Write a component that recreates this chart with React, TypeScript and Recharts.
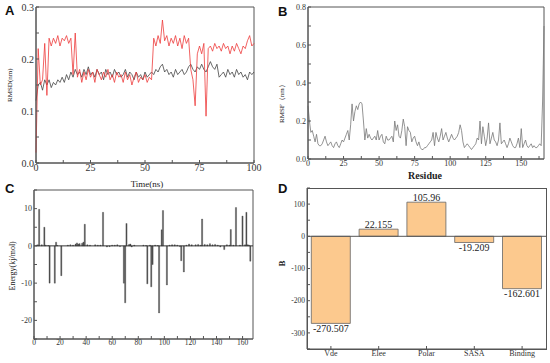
import {
  LineChart, Line, BarChart, Bar, XAxis, YAxis, ReferenceArea,
  ReferenceLine, LabelList,
} from 'recharts'

// A: RMSD over time (ns), one value per ns
const timeA = Array.from({ length: 101 }, (_, i) => i)
const rmsdRed = [
  0.02, 0.22, 0.15, 0.16, 0.23, 0.13, 0.24, 0.225, 0.24, 0.23,
  0.245, 0.225, 0.24, 0.235, 0.245, 0.23, 0.24, 0.17, 0.25, 0.165,
  0.18, 0.155, 0.175, 0.16, 0.18, 0.165, 0.175, 0.155, 0.18, 0.17,
  0.16, 0.175, 0.165, 0.18, 0.16, 0.17, 0.155, 0.175, 0.165, 0.17,
  0.155, 0.175, 0.16, 0.17, 0.15, 0.165, 0.175, 0.155, 0.165, 0.16,
  0.17, 0.155, 0.165, 0.16, 0.24, 0.225, 0.245, 0.23, 0.275, 0.235,
  0.245, 0.225, 0.24, 0.23, 0.245, 0.225, 0.24, 0.22, 0.245, 0.23,
  0.24, 0.18, 0.16, 0.11, 0.21, 0.225, 0.21, 0.23, 0.09, 0.22,
  0.225, 0.215, 0.23, 0.22, 0.225, 0.215, 0.23, 0.22, 0.225, 0.21,
  0.225, 0.215, 0.23, 0.22, 0.21, 0.225, 0.22, 0.235, 0.245, 0.225,
  0.23,
]
const rmsdBlack = [
  0.12, 0.15, 0.155, 0.14, 0.16, 0.15, 0.16, 0.145, 0.155, 0.15,
  0.16, 0.155, 0.165, 0.155, 0.17, 0.16, 0.175, 0.165, 0.18, 0.17,
  0.175, 0.165, 0.18, 0.17, 0.185, 0.17, 0.175, 0.165, 0.18, 0.17,
  0.175, 0.16, 0.18, 0.17, 0.175, 0.165, 0.18, 0.17, 0.175, 0.165,
  0.17, 0.18, 0.165, 0.175, 0.17, 0.16, 0.175, 0.165, 0.17, 0.16,
  0.175, 0.165, 0.17, 0.175, 0.17, 0.18, 0.175, 0.185, 0.19, 0.175,
  0.18, 0.17, 0.175, 0.165, 0.18, 0.17, 0.175, 0.18, 0.17, 0.175,
  0.185, 0.19, 0.18, 0.175, 0.185, 0.18, 0.19, 0.18, 0.175, 0.185,
  0.195, 0.185, 0.18, 0.19, 0.165, 0.17, 0.175, 0.165, 0.18, 0.17,
  0.175, 0.165, 0.18, 0.17, 0.175, 0.165, 0.17, 0.16, 0.175, 0.17,
  0.175,
]

// B: RMSF per residue 0..166
const rmsf = [
  0.28, 0.2, 0.14, 0.15, 0.12, 0.09, 0.13, 0.08, 0.07, 0.07,
  0.08, 0.1, 0.12, 0.09, 0.07, 0.08, 0.09, 0.07, 0.06, 0.08,
  0.09, 0.07, 0.06, 0.08, 0.1, 0.09, 0.11, 0.13, 0.15, 0.1,
  0.18, 0.29, 0.2, 0.25, 0.28, 0.26, 0.29, 0.3, 0.29, 0.2,
  0.1, 0.16, 0.11, 0.13, 0.11, 0.1, 0.11, 0.12, 0.1, 0.15,
  0.1, 0.12, 0.13, 0.09, 0.08, 0.12, 0.1, 0.1, 0.11, 0.12,
  0.09, 0.2, 0.15, 0.18, 0.12, 0.11, 0.15, 0.21, 0.17, 0.07,
  0.17, 0.15, 0.14, 0.09, 0.11, 0.12, 0.09, 0.07, 0.09, 0.06,
  0.05, 0.05, 0.06, 0.06, 0.07, 0.08, 0.09, 0.1, 0.14, 0.07,
  0.14, 0.11, 0.09, 0.12, 0.16, 0.1, 0.12, 0.14, 0.11, 0.09,
  0.11, 0.13, 0.11, 0.1, 0.11, 0.12, 0.14, 0.18, 0.15, 0.09,
  0.06, 0.07, 0.08, 0.07, 0.06, 0.05, 0.06, 0.07, 0.08, 0.11,
  0.1, 0.2, 0.08, 0.17, 0.12, 0.07, 0.11, 0.19, 0.08, 0.11,
  0.14, 0.1, 0.09, 0.07, 0.1, 0.19, 0.08, 0.09, 0.1, 0.08,
  0.06, 0.08, 0.11, 0.09, 0.07, 0.06, 0.06, 0.08, 0.11, 0.06,
  0.16, 0.06, 0.08, 0.1, 0.07, 0.06, 0.07, 0.08, 0.06, 0.07,
  0.06, 0.06, 0.07, 0.08, 0.07, 0.3, 0.7,
]

// C: per-residue energy contributions (residues not listed are 0)
const resC = [
  2, 3, 4, 6, 8, 9, 11, 12, 16, 17, 18, 21, 26, 28, 30, 32, 33, 34, 35, 37,
  38, 39, 41, 43, 47, 49, 51, 53, 56, 58, 60, 62, 64, 66, 69, 70, 71, 73, 74, 75,
  77, 84, 86, 87, 89, 90, 91, 93, 95, 96, 98, 99, 102, 104, 106, 108, 110, 112, 113, 115,
  117, 119, 121, 124, 126, 128, 129, 131, 133, 135, 137, 139, 141, 143, 146, 148, 150, 151, 153, 155,
  158, 160, 162, 163, 164, 165, 166,
]
const energyC = [
  0.2, 0.3, 9.8, 0.3, 5, 0.2, 0.1, -10, -10, 1, 0.1, -8, 0.2, 0.3, 0.2, 0.5, 0.8, 0.5, 0.6, 0.7,
  1, 5.8, 0.3, 0.2, 0.3, 0.2, 0.2, 9, -0.3, -0.2, 0.2, 0.2, 0.3, -0.2, -10, -15.3, 6, 0.4, 0.5, -0.3,
  0.2, 0.2, 0.1, -10.2, 0.2, -11, -5, 0.2, 0.1, -18, 4.3, 9.5, -10.5, 0.2, 0.3, 0.3, 0.2, -0.2, -4, -7,
  0.2, 0.5, 0.3, 0.3, 0.4, 0.2, 7.2, 0.4, 0.3, 0.6, 0.3, 0.4, 0.2, -0.3, -1, 0.3, 0.2, 4.4, 0.2, 10.3,
  0.2, 8, 0.3, 9, 0.3, 0.2, -4.1,
]

// D: binding free energy terms
const termsD = ['Vde', 'Elee', 'Polar', 'SASA', 'Binding']
const valuesD = [-270.507, 22.155, 105.96, -19.209, -162.601]

const rmsdData = timeA.map((t, i) => ({ t, red: rmsdRed[i], black: rmsdBlack[i] }))
const rmsfData = rmsf.map((v, i) => ({ res: i, v }))
const energyData = Array.from({ length: 167 }, (_, i) => {
  const k = resC.indexOf(i + 1)
  return { res: i + 1, e: k >= 0 ? energyC[k] : 0 }
})
const termData = termsD.map((name, i) => ({ name, v: valuesD[i] }))

const serif = '"Liberation Serif", "Times New Roman", serif'
const frame = '#555'
const tick = (size: number) => ({ fontSize: size, fill: '#333', fontFamily: serif })
// ticks point into the plot, labels stay outside
const inTicks = { tickSize: -3, tickMargin: 5 }

const Letter = ({ ch, x, y }: { ch: string; x: number; y: number }) => (
  <div style={{
    position: 'absolute', left: x, top: y, fontSize: 13, lineHeight: 1, fontWeight: 700,
    fontFamily: '"Liberation Sans", Arial, sans-serif', color: '#111',
  }}>{ch}</div>
)

const Title = ({ text, cx, cy, size, rotate = false, bold = false }: any) => (
  <div style={{
    position: 'absolute', left: cx - 60, top: cy - size * 0.6, width: 120,
    textAlign: 'center', fontSize: size, lineHeight: 1.2, fontFamily: serif,
    fontWeight: bold ? 700 : 400, color: '#222', whiteSpace: 'nowrap',
    transform: rotate ? 'rotate(-90deg)' : undefined,
  }}>{text}</div>
)

const fmt1 = (v: number) => (Math.round(v * 100) % 10 === 0 ? v.toFixed(1) : '')

export default function App() {
  return (
    <div style={{ position: 'absolute', left: 0, top: 0, width: 550, height: 363, background: '#fff', overflow: 'hidden' }}>
      {/* A */}
      <div style={{ position: 'absolute', left: 0, top: 0 }}>
        <LineChart width={275} height={180} data={rmsdData} margin={{ top: 7, right: 21, left: 4, bottom: 0 }}>
          <XAxis dataKey="t" type="number" domain={[0, 100]}
            ticks={[0, 12.5, 25, 37.5, 50, 62.5, 75, 87.5, 100]} interval={0}
            tickFormatter={(v: number) => (v % 25 === 0 ? String(v) : '')}
            height={17} {...inTicks} tickMargin={4} stroke={frame} tick={tick(10)} />
          <YAxis type="number" domain={[0, 0.3]}
            ticks={[0, 0.05, 0.1, 0.15, 0.2, 0.25, 0.3]} interval={0}
            tickFormatter={fmt1} width={32} {...inTicks} stroke={frame} tick={tick(10)} />
          <ReferenceArea x1={0} x2={100} y1={0} y2={0.3} fill="none" stroke={frame} />
          <Line dataKey="black" stroke="#444" strokeWidth={0.8} dot={false} isAnimationActive={false} />
          <Line dataKey="red" stroke="#ee3b3b" strokeWidth={0.8} dot={false} isAnimationActive={false} />
        </LineChart>
      </div>

      {/* B */}
      <div style={{ position: 'absolute', left: 275, top: 0 }}>
        <LineChart width={275} height={180} data={rmsfData} margin={{ top: 7, right: 6, left: 3, bottom: 0 }}>
          <XAxis dataKey="res" type="number" domain={[0, 166]}
            ticks={[0, 12.5, 25, 37.5, 50, 62.5, 75, 87.5, 100, 112.5, 125, 137.5, 150, 162.5]} interval={0}
            tickFormatter={(v: number) => (v % 25 === 0 ? String(v) : '')}
            height={21} {...inTicks} tickMargin={4} stroke={frame} tick={tick(8)} />
          <YAxis type="number" domain={[0, 0.8]}
            ticks={[0, 0.1, 0.2, 0.3, 0.4, 0.5, 0.6, 0.7, 0.8]} interval={0}
            tickFormatter={(v: number) => (Math.round(v * 10) % 2 === 0 ? v.toFixed(1) : '')}
            width={30} {...inTicks} stroke={frame} tick={tick(8)} />
          <ReferenceArea x1={0} x2={166} y1={0} y2={0.8} fill="none" stroke={frame} />
          <Line dataKey="v" stroke="#777" strokeWidth={0.8} dot={false} isAnimationActive={false} />
        </LineChart>
      </div>

      {/* C */}
      <div style={{ position: 'absolute', left: 0, top: 180 }}>
        <BarChart width={275} height={183} data={energyData} margin={{ top: 10, right: 22, left: 2, bottom: 0 }}>
          <XAxis dataKey="res" type="number" domain={[0, 168]}
            ticks={[0, 10, 20, 30, 40, 50, 60, 70, 80, 90, 100, 110, 120, 130, 140, 150, 160]} interval={0}
            tickFormatter={(v: number) => (v % 20 === 0 ? String(v) : '')}
            height={24} {...inTicks} tickMargin={4} stroke={frame} tick={tick(7.5)} />
          <YAxis type="number" domain={[-25, 15]}
            ticks={[-25, -20, -15, -10, -5, 0, 5, 10, 15]} interval={0}
            tickFormatter={(v: number) => (v % 10 === 0 ? String(v) : '')}
            width={32} {...inTicks} stroke={frame} tick={tick(8)} />
          <ReferenceArea x1={0} x2={168} y1={-25} y2={15} fill="none" stroke={frame} />
          <ReferenceLine y={0} stroke="#333" />
          <Bar dataKey="e" fill="#555" stroke="#333" strokeWidth={0.3} barSize={2} isAnimationActive={false} />
        </BarChart>
      </div>

      {/* D */}
      <div style={{ position: 'absolute', left: 275, top: 180 }}>
        <BarChart width={275} height={183} data={termData} barCategoryGap="9%" margin={{ top: 8, right: 4, left: 2, bottom: 0 }}>
          <XAxis dataKey="name" height={14} {...inTicks} tickMargin={4} stroke={frame} tick={tick(8)} interval={0} />
          <YAxis type="number" domain={[-350, 150]}
            ticks={[-350, -300, -250, -200, -150, -100, -50, 0, 50, 100, 150]} interval={0}
            tickFormatter={(v: number) => (v % 100 === 0 ? String(v) : '')}
            width={30} {...inTicks} stroke={frame} tick={tick(7.5)} />
          <ReferenceLine y={0} stroke="#555" />
          <Bar dataKey="v" fill="#fcc98e" stroke="#666" strokeWidth={0.8} isAnimationActive={false}>
            <LabelList dataKey="v" position="top" offset={1}
              style={{ fontSize: 10, fill: '#222', fontFamily: serif }} />
          </Bar>
        </BarChart>
        {/* box around the plot area (margin.left + y-axis width, margin.top) */}
        <div style={{
          position: 'absolute', left: 32, top: 8, width: 240, height: 162,
          border: `1px solid ${frame}`, boxSizing: 'border-box', pointerEvents: 'none',
        }} />
      </div>

      <Letter ch="A" x={5} y={4} />
      <Letter ch="B" x={278} y={5} />
      <Letter ch="C" x={5} y={182} />
      <Letter ch="D" x={278} y={182} />

      <Title text="RMSD(nm)" cx={10} cy={85} size={7} rotate />
      <Title text="Time(ns)" cx={147} cy={184} size={9} />
      <Title text="RMSF（nm）" cx={282} cy={102} size={7} rotate />
      <Title text="Residue" cx={425} cy={176} size={10} bold />
      <Title text="Energy(kj/mol)" cx={13} cy={266} size={8} rotate />
      <Title text="B" cx={282} cy={263} size={9} bold rotate />
    </div>
  )
}
